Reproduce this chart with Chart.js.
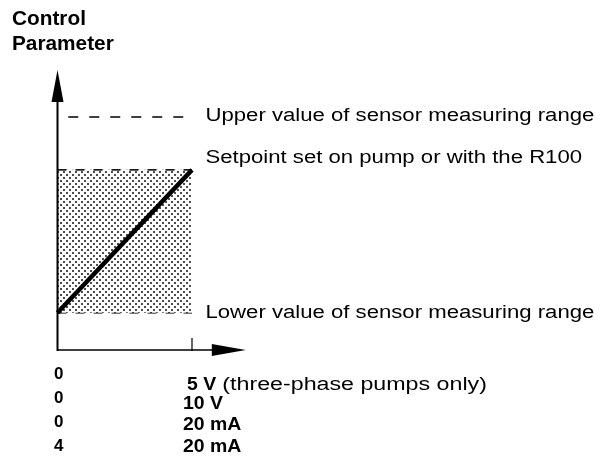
<!DOCTYPE html>
<html>
<head>
<meta charset="utf-8">
<script src="https://cdn.jsdelivr.net/npm/chart.js@4.4.0/dist/chart.umd.min.js"></script>
<style>
  html, body { margin: 0; padding: 0; background: #fff; }
  #wrap { width: 603px; height: 459px; position: relative; }
</style>
</head>
<body>
<div id="wrap"><canvas id="c" width="603" height="459"></canvas></div>
<script>
// Input signal as a fraction of its full scale (0 at origin, 1 at the tick mark)
const signalRange = [0, 1];
// Control parameter in % of the sensor measuring range
const sensorLower = [0, 0];
const setpointLevel = [73, 73];
const setpointCurve = [0, 73];
const sensorUpper = [100, 100];
const upperDashSpan = [0.08, 0.95];
const axisLimits = { xMin: 0, xMax: 1.4, yMin: -19, yMax: 124 };

// Text
const axisTitle = ['Control', 'Parameter'];
const curveLabels = [
  'Upper value of sensor measuring range',
  'Setpoint set on pump or with the R100',
  'Lower value of sensor measuring range'
];
const rangeStart = ['0', '0', '0', '4'];
const rangeEnd = ['5 V', '10 V', '20 mA', '20 mA'];
const rangeNote = ['(three-phase pumps only)', '', '', ''];

const FONT = '"Liberation Sans", Arial, Helvetica, sans-serif';
const REG_STRETCH = 1.23;
const NOTE_STRETCH = 1.29;
const BOLD_STRETCH = 1.08;

function zip(xs, ys) { return xs.map((v, i) => ({ x: v, y: ys[i] })); }

// Dotted screen used for the setpoint band
function stipple() {
  const t = document.createElement('canvas');
  t.width = 6; t.height = 6;
  const g = t.getContext('2d');
  g.fillStyle = '#fff';
  g.fillRect(0, 0, 6, 6);
  g.fillStyle = '#000';
  g.beginPath(); g.arc(1, 1, 0.95, 0, Math.PI * 2); g.fill();
  g.beginPath(); g.arc(4, 4, 0.95, 0, Math.PI * 2); g.fill();
  return g.createPattern(t, 'repeat');
}

// Draws text with a horizontal stretch, returns the drawn width
function wideText(ctx, text, x, y, stretch) {
  ctx.save();
  ctx.translate(x, y);
  ctx.scale(stretch, 1);
  ctx.fillText(text, 0, 0);
  ctx.restore();
  return ctx.measureText(text).width * stretch;
}

const overlay = {
  id: 'overlay',
  afterDatasetsDraw(chart) {
    const { ctx, scales: { x, y } } = chart;
    const ox = x.getPixelForValue(axisLimits.xMin);
    const oy = y.getPixelForValue(axisLimits.yMin);
    const tipX = x.getPixelForValue(axisLimits.xMax);
    const tipY = y.getPixelForValue(axisLimits.yMax);
    ctx.save();
    ctx.strokeStyle = '#000';
    ctx.fillStyle = '#000';

    // vertical axis with arrow
    ctx.lineWidth = 2;
    ctx.beginPath(); ctx.moveTo(ox, oy + 1); ctx.lineTo(ox, tipY + 20); ctx.stroke();
    ctx.beginPath();
    ctx.moveTo(ox, tipY); ctx.lineTo(ox - 6, tipY + 32); ctx.lineTo(ox + 6, tipY + 32);
    ctx.closePath(); ctx.fill();

    // horizontal axis with arrow
    ctx.lineWidth = 1.5;
    ctx.beginPath(); ctx.moveTo(ox, oy); ctx.lineTo(tipX - 20, oy); ctx.stroke();
    ctx.beginPath();
    ctx.moveTo(tipX, oy); ctx.lineTo(tipX - 34, oy - 6); ctx.lineTo(tipX - 34, oy + 6);
    ctx.closePath(); ctx.fill();

    // full-scale tick
    const tx = x.getPixelForValue(signalRange[1]);
    ctx.lineWidth = 1.2;
    ctx.beginPath(); ctx.moveTo(tx, oy - 12); ctx.lineTo(tx, oy + 1); ctx.stroke();

    // axis title
    ctx.font = 'bold 20px ' + FONT;
    ctx.textBaseline = 'alphabetic';
    ctx.textAlign = 'left';
    wideText(ctx, axisTitle[0], 12, 25, 1.04);
    wideText(ctx, axisTitle[1], 12, 50, 1.04);

    // curve labels
    const lx = x.getPixelForValue(1.1);
    ctx.font = '18px ' + FONT;
    wideText(ctx, curveLabels[0], lx, y.getPixelForValue(sensorUpper[0]) + 4, REG_STRETCH);
    wideText(ctx, curveLabels[1], lx, y.getPixelForValue(setpointLevel[1]) - 7, REG_STRETCH);
    wideText(ctx, curveLabels[2], lx, y.getPixelForValue(sensorLower[0]) + 5, REG_STRETCH);

    // signal range table under the horizontal axis
    const startBase = [379, 403, 427, 451];
    const endBase = [390, 409, 430, 452];
    ctx.font = 'bold 17px ' + FONT;
    rangeStart.forEach((t, i) => ctx.fillText(t, 54, startBase[i]));
    rangeEnd.forEach((t, i) => {
      const ex = i === 0 ? 187 : 183;
      ctx.font = 'bold 18px ' + FONT;
      const w = wideText(ctx, t, ex, endBase[i], BOLD_STRETCH);
      if (rangeNote[i]) {
        ctx.font = '18px ' + FONT;
        const gap = ctx.measureText(' ').width * REG_STRETCH;
        wideText(ctx, rangeNote[i], ex + w + gap, endBase[i], NOTE_STRETCH);
      }
    });
    ctx.restore();
  }
};

const dash = { borderColor: '#000', borderWidth: 1.5, pointRadius: 0, fill: false, clip: false };

new Chart(document.getElementById('c'), {
  type: 'line',
  data: {
    datasets: [
      { label: 'Setpoint', data: zip(signalRange, setpointCurve), borderColor: '#000',
        borderWidth: 4.5, pointRadius: 0, fill: false, clip: false, borderCapStyle: 'butt' },
      Object.assign({}, dash, { label: 'Setpoint band', data: zip(signalRange, setpointLevel),
        borderDash: [9, 9], fill: { value: 0 }, backgroundColor: stipple() }),
      Object.assign({}, dash, { label: 'Lower value', data: zip(signalRange, sensorLower),
        borderDash: [9, 9] }),
      Object.assign({}, dash, { label: 'Upper value', data: zip(upperDashSpan, sensorUpper),
        borderDash: [10, 11] })
    ]
  },
  options: {
    responsive: false,
    animation: false,
    devicePixelRatio: 1,
    layout: { padding: { left: 57.5, right: 603 - 245.8, top: 70, bottom: 459 - 350 } },
    scales: {
      x: { type: 'linear', min: axisLimits.xMin, max: axisLimits.xMax, display: false },
      y: { type: 'linear', min: axisLimits.yMin, max: axisLimits.yMax, display: false }
    },
    plugins: { legend: { display: false }, tooltip: { enabled: false } }
  },
  plugins: [overlay]
});
</script>
</body>
</html>
